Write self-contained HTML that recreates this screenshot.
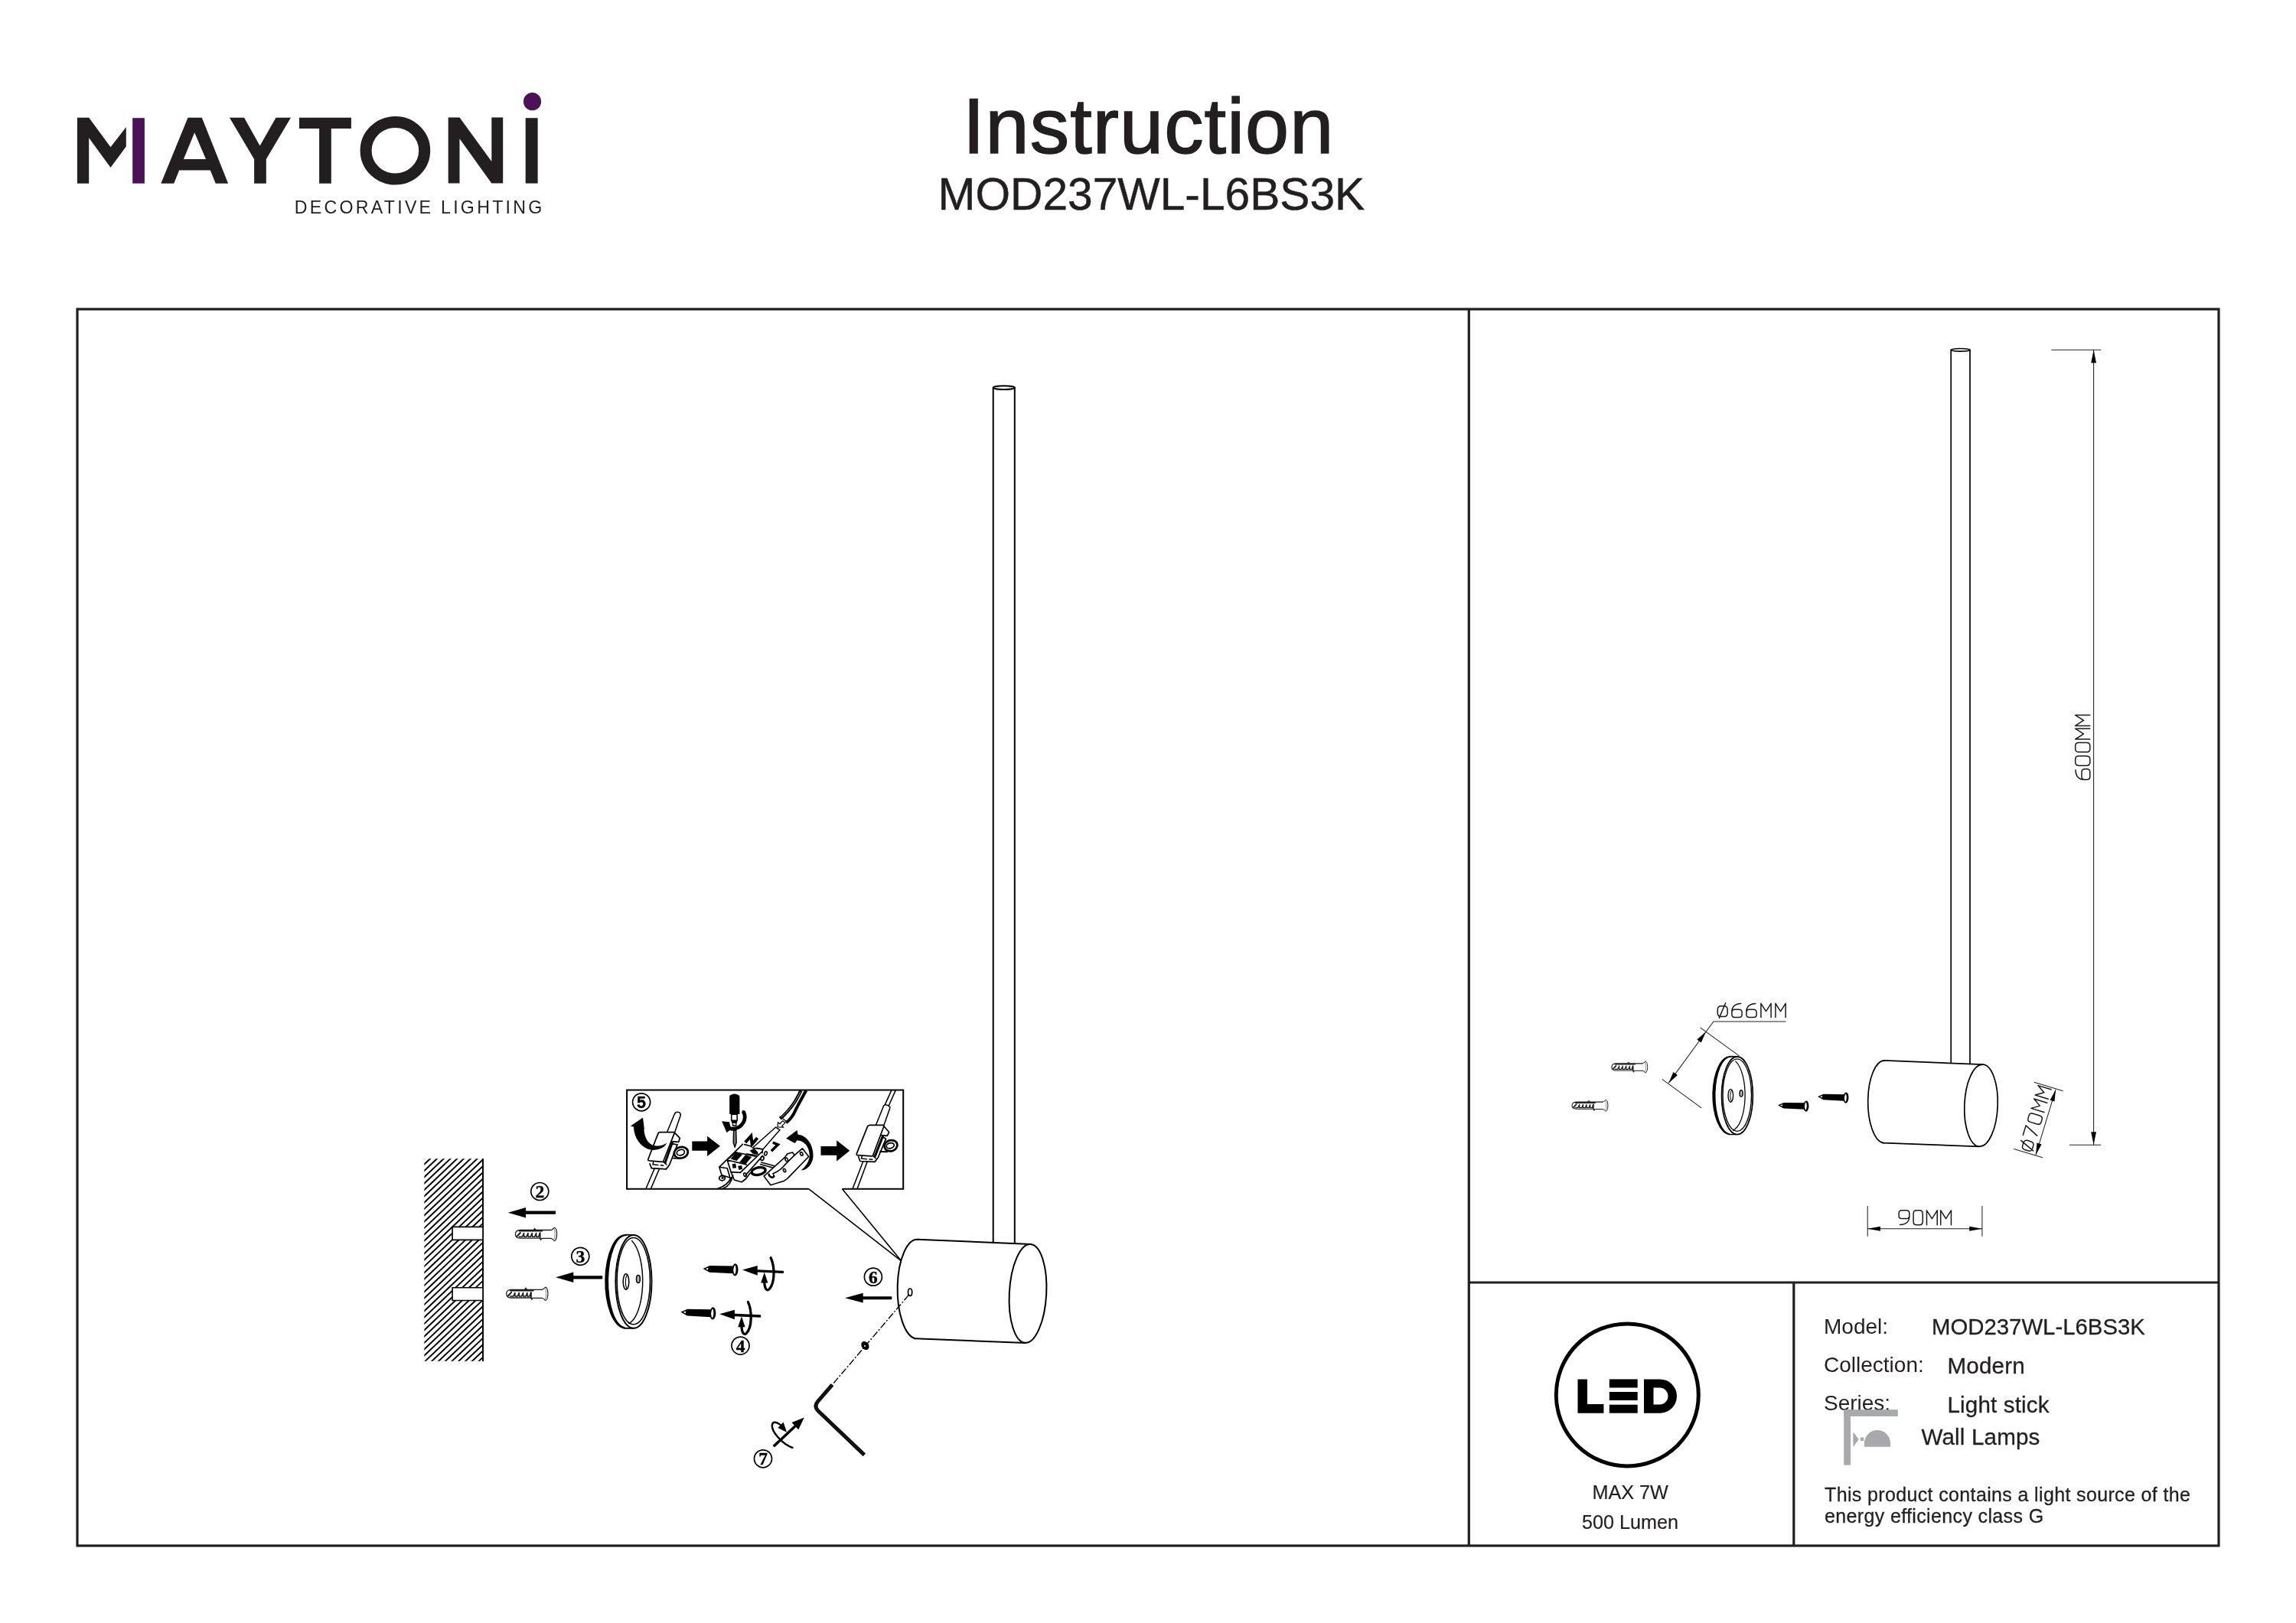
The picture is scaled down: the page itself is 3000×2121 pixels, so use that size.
<!DOCTYPE html>
<html lang="en">
<head>
<meta charset="utf-8">
<title>Instruction MOD237WL-L6BS3K</title>
<style>
html,body{margin:0;padding:0;background:#fff;}
body{width:3000px;height:2121px;position:relative;overflow:hidden;font-family:"Liberation Sans",sans-serif;color:#231f20;}
.t{position:absolute;white-space:nowrap;line-height:1;margin:0;padding:0;}
#page{position:absolute;left:0;top:0;width:3000px;height:2121px;will-change:transform;}
#art{position:absolute;left:0;top:0;width:3000px;height:2121px;}
.title1{left:1258px;top:114px;font-size:102.6px;letter-spacing:1.1px;-webkit-text-stroke:1.6px #231f20;}
.title2{left:1225.5px;top:224.5px;font-size:58.7px;-webkit-text-stroke:0.5px #231f20;}
.sub{left:384.8px;top:260px;font-size:23.2px;letter-spacing:3.25px;}
.lab{font-size:28px;}
.val{font-size:29.6px;letter-spacing:0.15px;-webkit-text-stroke:0.3px #231f20;}
.note{font-size:25px;letter-spacing:0.36px;-webkit-text-stroke:0.3px #231f20;}
.led{font-size:25.2px;-webkit-text-stroke:0.2px #231f20;}
</style>
</head>
<body>
<div id="page">
<div class="t title1">Instruction</div>
<div class="t title2">MOD237WL-L6BS3K</div>
<div class="t sub">DECORATIVE LIGHTING</div>

<div class="t lab" style="left:2383px;top:1719.5px;">Model:</div>
<div class="t val" style="left:2524px;top:1719px;font-size:29.35px;letter-spacing:0;">MOD237WL-L6BS3K</div>
<div class="t lab" style="left:2383px;top:1770px;">Collection:</div>
<div class="t val" style="left:2544.5px;top:1769.5px;">Modern</div>
<div class="t lab" style="left:2383px;top:1819.5px;">Series:</div>
<div class="t val" style="left:2544.5px;top:1820.5px;">Light stick</div>
<div class="t val" style="left:2510.5px;top:1863px;">Wall Lamps</div>
<div class="t note" style="left:2384px;top:1941px;">This product contains a light source of the</div>
<div class="t note" style="left:2384px;top:1969.3px;">energy efficiency class G</div>
<div class="t led" style="left:2080.5px;top:1938px;">MAX 7W</div>
<div class="t led" style="left:2067px;top:1977.3px;">500 Lumen</div>

<svg id="art" width="3000" height="2121" viewBox="0 0 3000 2121">
<!-- LOGO -->
<g fill="#231f20">
<polygon points="100.9,153.7 116.2,153.7 144.5,192.3 164.8,165.9 164.8,191.5 144.5,219 116.2,180.3 116.2,239.7 100.9,239.7"/>
<path fill-rule="evenodd" d="M210.3,239.7 L245.5,153.7 L263.8,153.7 L298.1,239.7 L281.7,239.7 L274.8,222.5 L234.2,222.5 L227.2,239.7 Z M254.2,173.2 L269,208 L239.9,208 Z"/>
<polygon points="299.9,153.7 319,153.7 339.6,190.6 360.5,153.7 380,153.7 347.8,208 347.8,239.7 332.1,239.7 332.1,208"/>
<polygon points="391,153.7 458.9,153.7 458.9,167.9 432.8,167.9 432.8,239.7 417.1,239.7 417.1,167.9 391,167.9"/>
<polygon points="585.7,153.6 600.5,153.6 642.3,211 642.3,153.6 657.2,153.6 657.2,239.6 642.3,239.6 600.5,181.3 600.5,239.6 585.7,239.6"/>
<rect x="686.7" y="154.2" width="15.9" height="85.4"/>
</g>
<ellipse cx="516.4" cy="196.8" rx="38.3" ry="37.3" fill="none" stroke="#231f20" stroke-width="15"/>
<rect x="173.2" y="154.2" width="15.7" height="85.5" fill="#4c1258"/>
<circle cx="695.5" cy="132.7" r="11.6" fill="#4c1258"/>

<!-- FRAME -->
<g fill="none" stroke="#231f20" stroke-width="3.2">
<rect x="101" y="404" width="2798" height="1616"/>
<line x1="1919.3" y1="404" x2="1919.3" y2="2020"/>
<line x1="1919.3" y1="1676" x2="2899" y2="1676"/>
<line x1="2343.8" y1="1676" x2="2343.8" y2="2020"/>
</g>

<!-- LED -->
<circle cx="2126.3" cy="1822.9" r="93" fill="none" stroke="#000" stroke-width="5"/>
<g fill="#000">
<polygon points="2061.5,1802.4 2074,1802.4 2074,1835.1 2095.4,1835.1 2095.4,1846.7 2061.5,1846.7"/>
<rect x="2102.8" y="1802.4" width="36.9" height="11.1"/>
<rect x="2102.8" y="1819" width="36.9" height="11"/>
<rect x="2102.8" y="1835.7" width="36.9" height="11"/>
<path fill-rule="evenodd" d="M2148,1802.4 h21 a22,22.15 0 0 1 0,44.3 h-21 z M2160.5,1813.5 h8 a11,11.05 0 0 1 0,22.1 h-8 z"/>
</g>

<!-- wall lamp icon -->
<g fill="#a7a9ac">
<rect x="2409.2" y="1842.2" width="70.6" height="8.7"/>
<rect x="2409.2" y="1842.2" width="8.8" height="72.4"/>
<path d="M2436,1890.8 V1886 A17,17 0 0 1 2470,1886 V1890.8 Z"/>
<polygon points="2421.4,1871.2 2428.8,1881 2421.4,1890.8"/>
<rect x="2430.8" y="1878.4" width="4.5" height="4.5"/>
</g>
<!-- LEFT DIAGRAM -->
<defs><clipPath id="wallclip"><rect x="554.4" y="1514.2" width="76.6" height="264.6"/></clipPath></defs>
<g clip-path="url(#wallclip)" stroke="#000" stroke-width="1.95" fill="none">
<path d="M545,1430.6L640,1340.3 M545,1438.9L640,1348.7 M545,1447.2L640,1357.0 M545,1455.6L640,1365.3 M545,1463.9L640,1373.6 M545,1472.2L640,1382.0 M545,1480.6L640,1390.3 M545,1488.9L640,1398.6 M545,1497.2L640,1407.0 M545,1505.5L640,1415.3 M545,1513.9L640,1423.6 M545,1522.2L640,1432.0 M545,1530.5L640,1440.3 M545,1538.9L640,1448.6 M545,1547.2L640,1457.0 M545,1555.5L640,1465.3 M545,1563.9L640,1473.6 M545,1572.2L640,1481.9 M545,1580.5L640,1490.3 M545,1588.8L640,1498.6 M545,1597.2L640,1506.9 M545,1605.5L640,1515.3 M545,1613.8L640,1523.6 M545,1622.2L640,1531.9 M545,1630.5L640,1540.2 M545,1638.8L640,1548.6 M545,1647.2L640,1556.9 M545,1655.5L640,1565.2 M545,1663.8L640,1573.6 M545,1672.1L640,1581.9 M545,1680.5L640,1590.2 M545,1688.8L640,1598.6 M545,1697.1L640,1606.9 M545,1705.5L640,1615.2 M545,1713.8L640,1623.5 M545,1722.1L640,1631.9 M545,1730.5L640,1640.2 M545,1738.8L640,1648.5 M545,1747.1L640,1656.9 M545,1755.5L640,1665.2 M545,1763.8L640,1673.5 M545,1772.1L640,1681.9 M545,1780.4L640,1690.2 M545,1788.8L640,1698.5 M545,1797.1L640,1706.8 M545,1805.4L640,1715.2 M545,1813.8L640,1723.5 M545,1822.1L640,1731.8 M545,1830.4L640,1740.2 M545,1838.8L640,1748.5 M545,1847.1L640,1756.8 M545,1855.4L640,1765.2 M545,1863.7L640,1773.5 M545,1872.1L640,1781.8"/>
</g>
<line x1="631" y1="1514" x2="631" y2="1779" stroke="#000" stroke-width="2"/>
<path d="M630.2,1603.4 H591.1 V1620.4 H630.2" fill="#fff" stroke="#000" stroke-width="1.6"/>
<path d="M630.2,1682.7 H591.1 V1699.5 H630.2" fill="#fff" stroke="#000" stroke-width="1.6"/>
<polygon points="663.8,1584.7 687.1,1578.0 687.1,1582.6 726,1582.6 726,1586.8 687.1,1586.8 687.1,1591.4" fill="#000"/>
<polygon points="726.1,1669.3 749.3,1662.6 749.3,1667.2 787.2,1667.2 787.2,1671.4 749.3,1671.4 749.3,1676.0" fill="#000"/>
<polygon points="1104,1696.2 1127.7,1689.8 1127.7,1694.2 1165.3,1694.2 1165.3,1698.2 1127.7,1698.2 1127.7,1702.6" fill="#000"/>
<circle cx="705.3" cy="1557" r="11.5" fill="none" stroke="#000" stroke-width="1.7"/><text x="705.3" y="1564.9" text-anchor="middle" font-family="Liberation Serif" font-weight="bold" font-size="23.5" fill="#000" stroke="#000" stroke-width="0.4">2</text>
<circle cx="758.3" cy="1641.8" r="11.5" fill="none" stroke="#000" stroke-width="1.7"/><text x="758.3" y="1649.7" text-anchor="middle" font-family="Liberation Serif" font-weight="bold" font-size="23.5" fill="#000" stroke="#000" stroke-width="0.4">3</text>
<circle cx="967.5" cy="1758.6" r="11.5" fill="none" stroke="#000" stroke-width="1.7"/><text x="967.5" y="1766.5" text-anchor="middle" font-family="Liberation Serif" font-weight="bold" font-size="23.5" fill="#000" stroke="#000" stroke-width="0.4">4</text>
<circle cx="838.1" cy="1440.3" r="11.5" fill="none" stroke="#000" stroke-width="1.7"/><text x="838.1" y="1448.0" text-anchor="middle" font-family="Liberation Sans" font-weight="bold" font-size="21.5" fill="#000" stroke="#000" stroke-width="0.4">5</text>
<circle cx="1140.9" cy="1668.7" r="11.5" fill="none" stroke="#000" stroke-width="1.7"/><text x="1140.9" y="1676.6000000000001" text-anchor="middle" font-family="Liberation Serif" font-weight="bold" font-size="23.5" fill="#000" stroke="#000" stroke-width="0.4">6</text>
<circle cx="997" cy="1906.3" r="11.5" fill="none" stroke="#000" stroke-width="1.7"/><text x="997" y="1914.2" text-anchor="middle" font-family="Liberation Serif" font-weight="bold" font-size="23.5" fill="#000" stroke="#000" stroke-width="0.4">7</text>
<g fill="none" stroke="#000" stroke-width="2" stroke-linecap="round" stroke-linejoin="round">
<path d="M1297.7,506.6 V1623.9 M1325.8,506.6 V1625.1"/>
<ellipse cx="1311.75" cy="506.6" rx="14.05" ry="2.4" fill="#fff"/>
<path d="M1199.2,1619.7 L1346.9,1626 M1195.7,1749.3 L1339.9,1754.9"/>
<path d="M1199.2,1619.7 A25.8,65 0 0 0 1195.7,1749.3"/>
<ellipse cx="1343" cy="1690.4" rx="24.2" ry="64.5" transform="rotate(3.1 1343 1690.4)"/>
</g>
<ellipse cx="1189.1" cy="1688.7" rx="2.6" ry="4.7" fill="#fff" stroke="#000" stroke-width="1.7"/>
<g fill="none" stroke="#000" stroke-width="1.6">
<path d="M1056.6,1553.7 L1177.6,1647.8 L1100.5,1553.7"/>
<path d="M1056.6,1553.7 H819.1 V1424.6 H1180.2 V1553.7 H1100.5" stroke-width="2"/>
</g>
<path d="M1187.3,1692.4 L1087.5,1809.6" fill="none" stroke="#000" stroke-width="1.4" stroke-dasharray="9 2.4 2 2.4"/>
<ellipse cx="1130.4" cy="1758.5" rx="4.6" ry="6" transform="rotate(-35 1130.4 1758.5)" fill="#000"/>
<circle cx="1130" cy="1759" r="1" fill="#fff"/>
<path d="M1087.5,1809.6 L1068.6,1831.4 Q1063,1838 1069.2,1844 L1129.4,1901.4" fill="none" stroke="#111" stroke-width="5" stroke-linejoin="round"/>
<!-- PARTS -->
<defs>
<g id="plate" fill="none" stroke="#000" stroke-linecap="round">
<path d="M458,220 A252,588 0 0 0 433,1396 L445,1376 A216,568.2 0 0 1 466,240 Z" fill="#000" stroke="none"/>
<path d="M456,226 L556,229 M432,1391 L548,1392" stroke-width="18"/>
<ellipse cx="553" cy="810" rx="225" ry="582" stroke-width="19" fill="#fff"/>
<ellipse cx="551.5" cy="803" rx="206.5" ry="541" stroke-width="15"/>
<path d="M530,300 A206,535 0 0 1 492,1331" stroke-width="14"/>
<ellipse cx="458" cy="811" rx="36" ry="97" stroke-width="15"/>
<path d="M474,728 A30,90 0 0 0 470,897" stroke-width="11"/>
<ellipse cx="610" cy="778" rx="23" ry="48" stroke-width="15" fill="#b5b5b5"/>
</g>
<g id="anchor" fill="none" stroke="#1a1a1a" stroke-width="1.3" stroke-linejoin="round" stroke-linecap="round">
<path d="M46.5,-5.3 H6 C1.5,-5.3 0,-2.5 0,0 C0,3 1.5,5.3 6,5.3 H32 L33.2,7.6 L34,5.6 H46.5"/>
<path d="M46.5,-5.3 C48.5,-5.6 49.5,-7.5 51,-8.6 C53,-8.6 54.2,-4 54.2,0 C54.2,4 53,8.8 51,8.8 C49.5,7.6 48.5,5.9 46.5,5.6" fill="#fff" stroke-width="1.15"/>
<path d="M50.6,-7 C52.3,-3.5 52.3,3.5 50.6,7.2" stroke="#777" stroke-width="0.9"/>
<path d="M5,-4.2 H35" stroke-width="1.9"/>
<path d="M2.2,2.8 L6.5,-1.8" stroke-width="2"/>
<path d="M5,3.4 H9 L11.2,-1.4 V3.4 H14.5 L16.6,-1.4 V3.4 H19.8 L21.9,-1.4 V3.4 H25.2 L27.3,-1.4 V3.4 H30.3 L31.9,-1.4" stroke-width="1.45"/>
<path d="M32.2,-1.6 V5" stroke-width="1.9"/>
<path d="M24,-5.3 L25.2,-7.6 L26.8,-5.3" stroke-width="1.1"/>
</g>
<g id="screw">
<polygon points="0,0 8.6,-4.1 39.5,-4.9 39.5,4.9 8.6,4.5" fill="#000"/>
<polygon points="3.3,0.1 6.6,-1.3 6.6,1.5" fill="#fff"/>
<ellipse cx="42" cy="0" rx="4" ry="8.1" fill="#000"/>
<path d="M41.6,-6.2 C39.2,-3 39.2,3 41.6,6.2 C43.4,3 43.4,-3 41.6,-6.2 Z" fill="#fff"/>
</g>
<g id="turn" fill="none" stroke="#000">
<polygon points="913,300 1113,244 1113,296 1460,312 1460,346 1113,330 1113,372" fill="#000" stroke="none"/>
<path d="M1290,140 C1345,260 1345,470 1272,552 C1235,590 1207,545 1205,460" stroke-width="33" stroke-linecap="round"/>
<polygon points="1205,332 1157,472 1252,472" fill="#000" stroke="none"/>
</g>
</defs>
<use href="#plate" transform="translate(770,1590) scale(0.10477)"/>
<use href="#anchor" transform="translate(673.4,1612.8)"/>
<use href="#anchor" transform="translate(661.7,1690.7)"/>
<use href="#screw" transform="translate(918.6,1657.9) rotate(2)"/>
<use href="#screw" transform="translate(889.4,1714.6) rotate(2.4)"/>
<use href="#turn" transform="translate(880,1630) scale(0.09858)"/>
<use href="#turn" transform="translate(850.2,1687.6) scale(0.09858)"/>
<g transform="translate(960,1740) scale(0.1232)" fill="none" stroke="#000">
<path d="M412,1220 L650,996" stroke-width="29"/>
<polygon points="737,913 676,1042 604,966" fill="#000" stroke="none"/>
<path d="M612,1232 C500,1190 388,1060 397,992 C402,952 445,958 490,995" stroke-width="20" stroke-linecap="round"/>
<polygon points="552,1070 458,1022 516,962" fill="#000" stroke="none"/>
</g>
<!-- STEP 5 BOX CONTENT -->
<defs><clipPath id="boxclip"><rect x="819.1" y="1424.6" width="361.1" height="129.1"/></clipPath></defs>
<g clip-path="url(#boxclip)">
<!-- 5a: left connector + curved arrow + big arrow (origin 815,1420 scale 11.59) -->
<g transform="translate(815,1420) scale(0.08628)" fill="none" stroke="#000" stroke-width="20" stroke-linejoin="round" stroke-linecap="round">
<path d="M330,1560 L492,1180 M405,1560 L562,1192" stroke-width="18"/>
<path d="M655,692 L768,418 Q790,372 835,390 Q872,408 856,448 L772,692" fill="#fff" stroke-width="18"/>
<path d="M768,697 L850,780 L832,838 L742,832" fill="#fff"/>
<path d="M742,868 L812,880 L692,1185 L642,1250 L420,1236 L394,1168" fill="#fff"/>
<path d="M735,850 L628,1150" stroke-width="34"/>
<ellipse cx="868" cy="1000" rx="106" ry="84" transform="rotate(-15 868 1000)" fill="#fff" stroke-width="32"/>
<ellipse cx="862" cy="998" rx="60" ry="42" transform="rotate(-15 862 998)" stroke-width="20"/>
<path d="M752,1085 L850,1088" stroke-width="22"/>
<path d="M548,690 L755,690 Q772,692 766,708 L600,1130 Q595,1142 580,1141 L385,1122 Q362,1118 370,1098 L520,712 Q530,690 548,690 Z" fill="#fff"/>
<path d="M600,1140 L648,1180 M450,1135 L440,1180 L520,1188 M560,1192 L600,1196" stroke-width="18"/>
<path d="M290,468 L103,598 L152,612 C150,800 300,962 450,962 C560,957 622,912 654,856 C600,890 540,906 470,896 C380,880 312,780 306,642 L312,647 Z" fill="#000" stroke="none"/>
<polygon points="1035,830 1265,830 1265,750 1460,900 1265,1055 1265,970 1035,970" fill="#000" stroke="none"/>
</g>
<!-- 5b: middle (origin 935,1420 scale 16.4) -->
<g transform="translate(935,1420) scale(0.06098)" fill="none" stroke="#000" stroke-width="27" stroke-linejoin="round" stroke-linecap="round">
<!-- screwdriver -->
<path d="M298,212 Q298,182 340,172 Q405,140 470,172 Q515,182 515,212 L515,592 L298,592 Z" fill="#000" stroke="none"/>
<rect x="340" y="592" width="122" height="135" fill="#fff" stroke-width="26"/>
<rect x="340" y="727" width="122" height="48" fill="#000" stroke="none"/>
<rect x="368" y="775" width="72" height="62" fill="#fff" stroke-width="22"/>
<path d="M386,940 L440,940 L446,1200 L414,1302 L380,1200 Z" fill="#777" stroke-width="22"/>
<path d="M600,545 C685,700 560,902 360,906 C320,906 290,896 262,880" stroke-width="78" stroke-linecap="butt"/>
<polygon points="133,742 294,758 332,906 240,988" fill="#000" stroke="none"/>
<circle cx="600" cy="548" r="38" fill="#000" stroke="none"/>
<!-- wires -->
<path d="M1830,82 C1750,250 1650,450 1385,690" stroke-width="68" stroke-linecap="butt"/>
<path d="M1940,82 C1850,250 1760,400 1705,520 C1650,650 1580,720 1512,775" stroke-width="66" stroke-linecap="butt"/>
<path d="M1820,110 C1745,260 1650,440 1400,668" stroke="#fff" stroke-width="10" stroke-linecap="butt"/>
<path d="M1525,750 L1375,640" stroke-width="20"/>
<path d="M1327,866 L1337,766 L1377,800 L1440,732 L1490,776 L1422,842 L1457,872 Z" fill="#fff" stroke-width="20"/>
<path d="M1290,870 L1375,930 L1018,1342 L790,1316 Z" fill="#fff" stroke-width="25"/>
<!-- N / L labels -->
<path d="M636,1196 L760,1058 L782,1236 L896,1098" stroke-width="66" stroke-linecap="butt" stroke-linejoin="miter"/>
<path d="M1226,1200 L1336,1244 L1196,1380" stroke-width="58" stroke-linecap="butt" stroke-linejoin="miter"/>
<!-- big curved arrow -->
<path d="M1510,1110 L1745,935 L1765,1030 C1950,1040 2092,1250 2092,1470 C2092,1650 1960,1800 1830,1795 C1900,1740 2012,1620 2012,1470 C2012,1300 1900,1150 1745,1150 L1700,1215 Z" fill="#000" stroke="none"/>
<!-- terminal block -->
<path d="M80,1725 L580,1235 M620,1240 L760,1280 M880,1318 L1010,1345 L1000,1420 M285,1540 L440,1410 M250,1575 L660,1670 M250,1575 L330,1830 M80,1725 L250,1750 L300,1920 M80,1725 L130,1895 L300,1950"/>
<polygon points="320,1548 445,1412 575,1455 450,1592" fill="#000" stroke="none"/>
<polygon points="512,1618 640,1462 775,1508 645,1662" fill="#000" stroke="none"/>
<path d="M440,1410 L880,1500 M660,1440 L880,1470" stroke-width="22"/>
<polygon points="730,1370 830,1330 900,1400 920,1460 800,1440" fill="#000" stroke="none"/>
<polygon points="355,1660 430,1650 445,1742 370,1752" fill="#000" stroke="none"/>
<polygon points="480,1700 560,1690 575,1772 495,1782" fill="#000" stroke="none"/>
<path d="M330,1830 L530,1842 L1000,1390 M640,1900 L1010,1482 M330,1830 L400,2000 L560,2046 L650,1976 L740,1852 M300,1930 L330,2010"/>
<ellipse cx="630" cy="1890" rx="28" ry="40" transform="rotate(-20 630 1890)" stroke-width="24"/>
<ellipse cx="1075" cy="1432" rx="28" ry="42" transform="rotate(20 1075 1432)" stroke-width="26"/>
<ellipse cx="1000" cy="1538" rx="34" ry="44" transform="rotate(20 1000 1538)" stroke-width="28"/>
<ellipse cx="920" cy="1812" rx="150" ry="78" transform="rotate(-12 920 1812)" stroke-width="56"/>
<path d="M980,1625 L1262,1702 M960,1665 L1240,1742" stroke-width="26"/>
<!-- cover -->
<path d="M1035,1920 L1480,1520 L1540,1440 L1650,1410 L1690,1470 L1860,1325 L1995,1500 L1540,1970 L1470,2020 L1180,2110 Z" fill="#fff"/>
<path d="M1690,1470 L1470,1692 C1400,1780 1330,1830 1232,1860 L1250,1925"/>
<path d="M1140,1880 C1160,1952 1232,1962 1252,1922" stroke-width="42"/>
<ellipse cx="1520" cy="1565" rx="26" ry="40" transform="rotate(-25 1520 1565)" stroke-width="26"/>
<ellipse cx="1842" cy="1442" rx="26" ry="40" transform="rotate(-25 1842 1442)" stroke-width="26"/>
<ellipse cx="1476" cy="1796" rx="24" ry="38" transform="rotate(-25 1476 1796)" stroke-width="26"/>
<!-- cable loop -->
<ellipse cx="140" cy="1962" rx="62" ry="52" stroke-width="30"/>
<circle cx="150" cy="1955" r="26" fill="#000" stroke="none"/>
<path d="M40,2190 C160,2150 280,2080 332,1950 M150,2190 C260,2150 335,2080 372,1900" stroke-width="28"/>
</g>
<!-- 5c: right connector + big arrow (origin 1060,1420 scale 11.59) -->
<g transform="translate(1060,1420) scale(0.08628)" fill="none" stroke="#000" stroke-width="20" stroke-linejoin="round" stroke-linecap="round">
<polygon points="145,905 385,905 385,815 582,970 385,1130 385,1040 145,1040" fill="#000" stroke="none"/>
<path d="M1112,282 L1218,50 M1172,292 L1280,50" stroke-width="18"/>
<path d="M978,586 L1096,292 Q1110,268 1150,280 Q1200,296 1190,330 L1100,586" fill="#fff" stroke-width="18"/>
<path d="M620,1565 L802,1090 M690,1565 L862,1100" stroke-width="18"/>
<path d="M1100,600 L1178,690 L1150,746 L1062,738" fill="#fff"/>
<path d="M1090,765 L1130,792 L1012,1075 L962,1140 L740,1130 L714,1060" fill="#fff"/>
<path d="M1080,760 L966,1050" stroke-width="36"/>
<ellipse cx="1205" cy="895" rx="99" ry="82" transform="rotate(-15 1205 895)" fill="#fff" stroke-width="32"/>
<ellipse cx="1196" cy="895" rx="60" ry="40" transform="rotate(-15 1196 895)" stroke-width="20"/>
<path d="M1045,985 L1150,988" stroke-width="22"/>
<path d="M885,585 L1085,585 Q1105,588 1098,606 L935,1040 Q928,1055 910,1053 L700,1040 Q680,1035 688,1015 L850,610 Q860,585 885,585 Z" fill="#fff"/>
<path d="M935,1050 L975,1085 M770,1048 L760,1090 L840,1098 M880,1100 L925,1105" stroke-width="18"/>
</g>
</g>
<!-- RIGHT PANEL DRAWING -->
<g fill="none" stroke="#000" stroke-width="1.7" stroke-linecap="round">
<path d="M2549.2,457.3 V1388.6 M2574,457.3 V1390.3"/>
<ellipse cx="2561.6" cy="457.3" rx="12.4" ry="1.8" fill="#fff"/>
<path d="M2462.3,1385.9 L2590.8,1391.1 M2460.5,1493.7 L2586.5,1498.3"/>
<path d="M2462.3,1385.9 A21.7,54 0 0 0 2460.5,1493.7"/>
<ellipse cx="2588.5" cy="1444.7" rx="21.7" ry="53.6" transform="rotate(2.3 2588.5 1444.7)"/>
</g>
<g fill="none" stroke="#222" stroke-width="1.05">
<path d="M2735.6,457.2 V1496.3 M2680.3,457.2 H2745 M2703.9,1496.3 H2745"/>
<path d="M2686,1423.9 L2660,1509.3 M2657.8,1414.2 L2695.7,1425.8 M2631.4,1501.5 L2668.9,1512.8"/>
<path d="M2333.5,1335 H2238.9 L2180.2,1415.4 M2221.6,1342.9 L2272.4,1379.9 M2171.8,1410.4 L2223.1,1447.9"/>
<path d="M2440.2,1576 V1615.8 M2589.9,1576 V1615.8 M2440.2,1605.8 H2589.9"/>
</g>
<polygon points="2735.6,457.2 2739.0,474.2 2732.2,474.2" fill="#000"/>
<polygon points="2735.6,1496.3 2732.2,1479.3 2739.0,1479.3" fill="#000"/>
<polygon points="2686.0,1423.9 2684.5,1439.6 2678.5,1437.8" fill="#000"/>
<polygon points="2660.0,1509.3 2661.5,1493.6 2667.5,1495.4" fill="#000"/>
<polygon points="2229.0,1348.3 2222.8,1362.6 2217.3,1358.6" fill="#000"/>
<polygon points="2180.2,1415.4 2186.4,1401.1 2191.9,1405.1" fill="#000"/>
<polygon points="2440.2,1605.8 2456.9,1602.8 2456.9,1608.8" fill="#000"/>
<polygon points="2589.9,1605.8 2573.2,1608.8 2573.2,1602.8" fill="#000"/>
<g transform="translate(2243.90,1329.50) rotate(0)" fill="none" stroke="#1a1a1a" stroke-width="1.5" stroke-linejoin="round" stroke-linecap="round"><path vector-effect="non-scaling-stroke" transform="translate(0.00,-18.20) scale(0.9103,0.9333)" d="M5.4,3.8 L9.6,3.8 Q14.6,3.8 14.6,9 L14.6,13.3 Q14.6,18.5 9.6,18.5 L5.4,18.5 Q0.4,18.5 0.4,13.3 L0.4,9 Q0.4,3.8 5.4,3.8 Z M2.6,20.4 L11.8,-0.6"/><path vector-effect="non-scaling-stroke" transform="translate(19.00,-18.20) scale(0.9103,0.9333)" d="M13,0.3 Q6,0.6 2.6,4 Q0,7 0,10.5 L0,15.5 Q0,19.5 4,19.5 L10.5,19.5 Q14.5,19.5 14.5,15.5 L14.5,12.5 Q14.5,8.5 10.5,8.5 L4,8.5 Q0,8.5 0,12.5"/><path vector-effect="non-scaling-stroke" transform="translate(38.00,-18.20) scale(0.9103,0.9333)" d="M13,0.3 Q6,0.6 2.6,4 Q0,7 0,10.5 L0,15.5 Q0,19.5 4,19.5 L10.5,19.5 Q14.5,19.5 14.5,15.5 L14.5,12.5 Q14.5,8.5 10.5,8.5 L4,8.5 Q0,8.5 0,12.5"/><path vector-effect="non-scaling-stroke" transform="translate(57.00,-18.20) scale(0.9103,0.9333)" d="M0,19.5 L0,0 L7.25,11 L14.5,0 L14.5,19.5"/><path vector-effect="non-scaling-stroke" transform="translate(76.00,-18.20) scale(0.9103,0.9333)" d="M0,19.5 L0,0 L7.25,11 L14.5,0 L14.5,19.5"/></g>
<g transform="translate(2481.10,1600.80) rotate(0)" fill="none" stroke="#1a1a1a" stroke-width="1.5" stroke-linejoin="round" stroke-linecap="round"><path vector-effect="non-scaling-stroke" transform="translate(0.00,-18.93) scale(0.9468,0.9707)" d="M1.5,19.2 Q8.5,18.9 11.9,15.5 Q14.5,12.5 14.5,9 L14.5,4 Q14.5,0 10.5,0 L4,0 Q0,0 0,4 L0,7 Q0,11 4,11 L10.5,11 Q14.5,11 14.5,7"/><path vector-effect="non-scaling-stroke" transform="translate(18.20,-18.93) scale(0.9468,0.9707)" d="M5.2,0 L9.3,0 Q13.7,0 13.7,4.6 L13.7,14.9 Q13.7,19.5 9.3,19.5 L5.2,19.5 Q0.8,19.5 0.8,14.9 L0.8,4.6 Q0.8,0 5.2,0 Z"/><path vector-effect="non-scaling-stroke" transform="translate(36.40,-18.93) scale(0.9468,0.9707)" d="M0,19.5 L0,0 L7.25,11 L14.5,0 L14.5,19.5"/><path vector-effect="non-scaling-stroke" transform="translate(54.60,-18.93) scale(0.9468,0.9707)" d="M0,19.5 L0,0 L7.25,11 L14.5,0 L14.5,19.5"/></g>
<g transform="translate(2730.80,1018.80) rotate(-90)" fill="none" stroke="#1a1a1a" stroke-width="1.5" stroke-linejoin="round" stroke-linecap="round"><path vector-effect="non-scaling-stroke" transform="translate(0.00,-19.11) scale(0.9559,0.9800)" d="M13,0.3 Q6,0.6 2.6,4 Q0,7 0,10.5 L0,15.5 Q0,19.5 4,19.5 L10.5,19.5 Q14.5,19.5 14.5,15.5 L14.5,12.5 Q14.5,8.5 10.5,8.5 L4,8.5 Q0,8.5 0,12.5"/><path vector-effect="non-scaling-stroke" transform="translate(17.60,-19.11) scale(0.9559,0.9800)" d="M5.2,0 L9.3,0 Q13.7,0 13.7,4.6 L13.7,14.9 Q13.7,19.5 9.3,19.5 L5.2,19.5 Q0.8,19.5 0.8,14.9 L0.8,4.6 Q0.8,0 5.2,0 Z"/><path vector-effect="non-scaling-stroke" transform="translate(35.20,-19.11) scale(0.9559,0.9800)" d="M5.2,0 L9.3,0 Q13.7,0 13.7,4.6 L13.7,14.9 Q13.7,19.5 9.3,19.5 L5.2,19.5 Q0.8,19.5 0.8,14.9 L0.8,4.6 Q0.8,0 5.2,0 Z"/><path vector-effect="non-scaling-stroke" transform="translate(52.80,-19.11) scale(0.9559,0.9800)" d="M0,19.5 L0,0 L7.25,11 L14.5,0 L14.5,19.5"/><path vector-effect="non-scaling-stroke" transform="translate(70.40,-19.11) scale(0.9559,0.9800)" d="M0,19.5 L0,0 L7.25,11 L14.5,0 L14.5,19.5"/></g>
<g transform="translate(2655.10,1505.82) rotate(-73.1)" fill="none" stroke="#1a1a1a" stroke-width="1.5" stroke-linejoin="round" stroke-linecap="round"><path vector-effect="non-scaling-stroke" transform="translate(0.00,-17.84) scale(0.8921,0.9147)" d="M5.4,3.8 L9.6,3.8 Q14.6,3.8 14.6,9 L14.6,13.3 Q14.6,18.5 9.6,18.5 L5.4,18.5 Q0.4,18.5 0.4,13.3 L0.4,9 Q0.4,3.8 5.4,3.8 Z M2.6,20.4 L11.8,-0.6"/><path vector-effect="non-scaling-stroke" transform="translate(18.20,-17.84) scale(0.8921,0.9147)" d="M0,0 L14.5,0 L5,19.5"/><path vector-effect="non-scaling-stroke" transform="translate(36.40,-17.84) scale(0.8921,0.9147)" d="M5.2,0 L9.3,0 Q13.7,0 13.7,4.6 L13.7,14.9 Q13.7,19.5 9.3,19.5 L5.2,19.5 Q0.8,19.5 0.8,14.9 L0.8,4.6 Q0.8,0 5.2,0 Z"/><path vector-effect="non-scaling-stroke" transform="translate(54.60,-17.84) scale(0.8921,0.9147)" d="M0,19.5 L0,0 L7.25,11 L14.5,0 L14.5,19.5"/><path vector-effect="non-scaling-stroke" transform="translate(72.80,-17.84) scale(0.8921,0.9147)" d="M0,19.5 L0,0 L7.25,11 L14.5,0 L14.5,19.5"/></g>
<use href="#plate" transform="translate(2219.8,1360.9) scale(0.09063,0.08738)"/>
<use href="#anchor" transform="translate(2105.9,1394.4) scale(0.863)"/>
<use href="#anchor" transform="translate(2054.1,1444.7) scale(0.863)"/>
<use href="#screw" transform="translate(2323,1444.3) rotate(2) scale(0.88)"/>
<use href="#screw" transform="translate(2375,1433) rotate(2.5) scale(0.88)"/>
</svg>
</div>
</body>
</html>
